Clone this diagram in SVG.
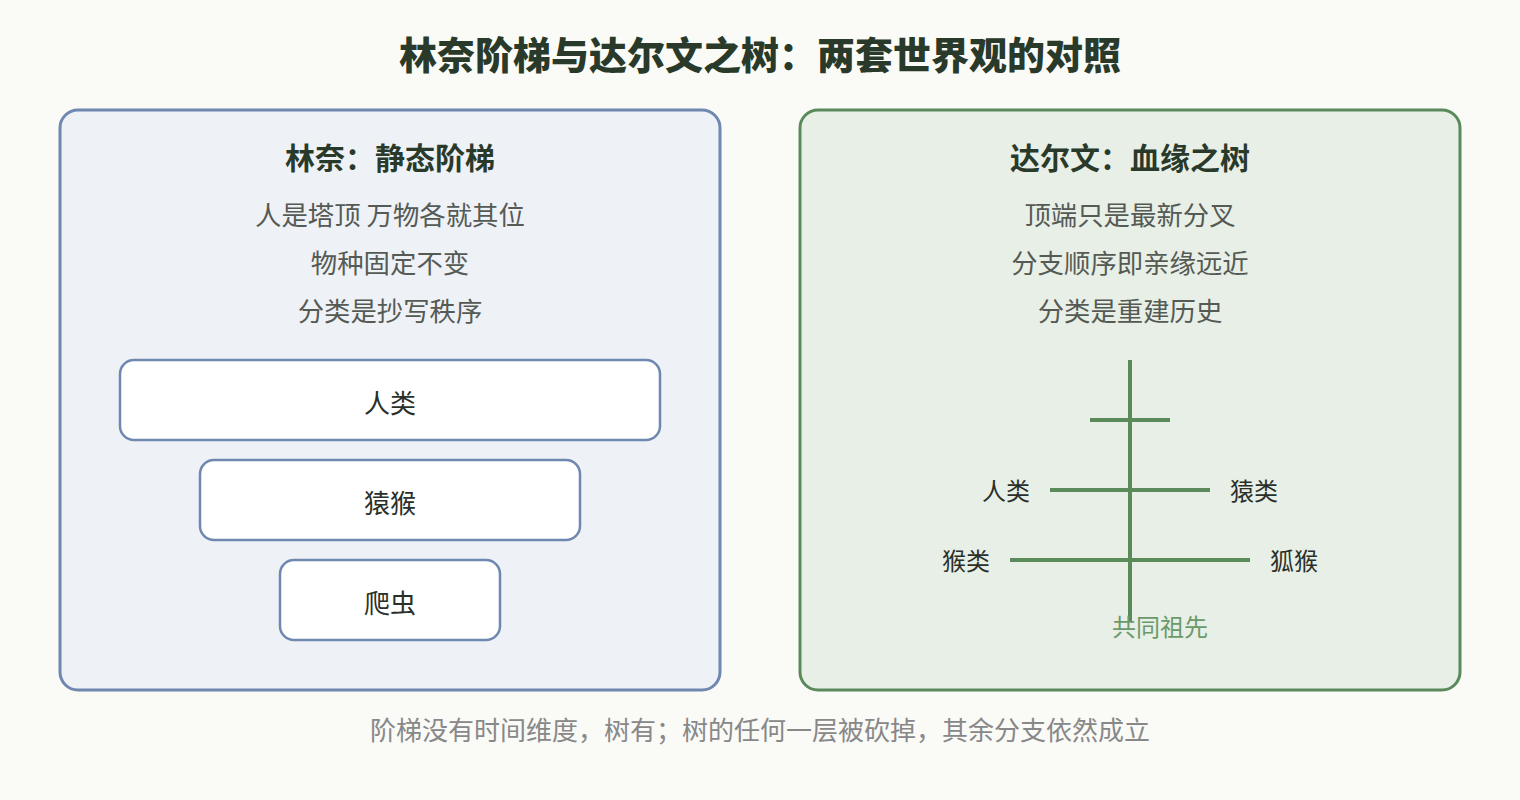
<svg xmlns="http://www.w3.org/2000/svg" width="1520" height="800" viewBox="0 0 1520 800">
<style>
text{font-family:"Noto Sans CJK SC","Noto Sans",sans-serif;text-anchor:middle}
.title{font-size:38px;font-weight:900;fill:#2a3a2a}
.head{font-size:30px;font-weight:bold;fill:#2a3a2a}
.body{font-size:26.4px;fill:#555a55}
.box{fill:#ffffff;stroke:#6f88b0;stroke-width:2.5}
.lbl{font-size:26px;fill:#2a2f2a}
.tl{font-size:24px;fill:#2a2f2a}
.branch{stroke:#5a8a5a;stroke-width:4;fill:none}
.foot{font-size:26px;fill:#888}
</style>
<rect x="0" y="0" width="1520" height="800" fill="#fafaf7"/>
<text class="title" x="760" y="69">林奈阶梯与达尔文之树：两套世界观的对照</text>
<g id="linnaeus-panel">
<rect x="60" y="110" width="660" height="580" rx="18" fill="#eef1f6" stroke="#6f88b0" stroke-width="3"/>
<text class="head" x="390" y="169">林奈：静态阶梯</text>
<text class="body" x="390" y="225">人是塔顶 万物各就其位</text>
<text class="body" x="390" y="273">物种固定不变</text>
<text class="body" x="390" y="321">分类是抄写秩序</text>
</g>
<g id="ladder-human"><rect class="box" x="120" y="360" width="540" height="80" rx="14"/><text class="lbl" x="390" y="413">人类</text></g>
<g id="ladder-ape"><rect class="box" x="200" y="460" width="380" height="80" rx="14"/><text class="lbl" x="390" y="513">猿猴</text></g>
<g id="ladder-reptile"><rect class="box" x="280" y="560" width="220" height="80" rx="14"/><text class="lbl" x="390" y="613">爬虫</text></g>
<g id="darwin-panel">
<rect x="800" y="110" width="660" height="580" rx="18" fill="#e8efe6" stroke="#5a8a5a" stroke-width="3"/>
<text class="head" x="1130" y="169">达尔文：血缘之树</text>
<text class="body" x="1130" y="225">顶端只是最新分叉</text>
<text class="body" x="1130" y="273">分支顺序即亲缘远近</text>
<text class="body" x="1130" y="321">分类是重建历史</text>
</g>
<g id="connectors">
<line class="branch" x1="1130" y1="360" x2="1130" y2="622"/>
<line class="branch" x1="1090" y1="420" x2="1170" y2="420"/>
<line class="branch" x1="1050" y1="490" x2="1210" y2="490"/>
<line class="branch" x1="1010" y1="560" x2="1250" y2="560"/>
</g>
<g id="tree-human"><text class="tl" x="1030" y="500" style="text-anchor:end">人类</text></g>
<g id="tree-ape"><text class="tl" x="1230" y="500" style="text-anchor:start">猿类</text></g>
<g id="tree-monkey"><text class="tl" x="990" y="570" style="text-anchor:end">猴类</text></g>
<g id="tree-lemur"><text class="tl" x="1270" y="570" style="text-anchor:start">狐猴</text></g>
<g id="tree-ancestor"><text x="1160" y="636" style="font-size:24px;fill:#6a9a6a">共同祖先</text></g>
<text class="foot" x="760" y="740">阶梯没有时间维度，树有；树的任何一层被砍掉，其余分支依然成立</text>
</svg>
